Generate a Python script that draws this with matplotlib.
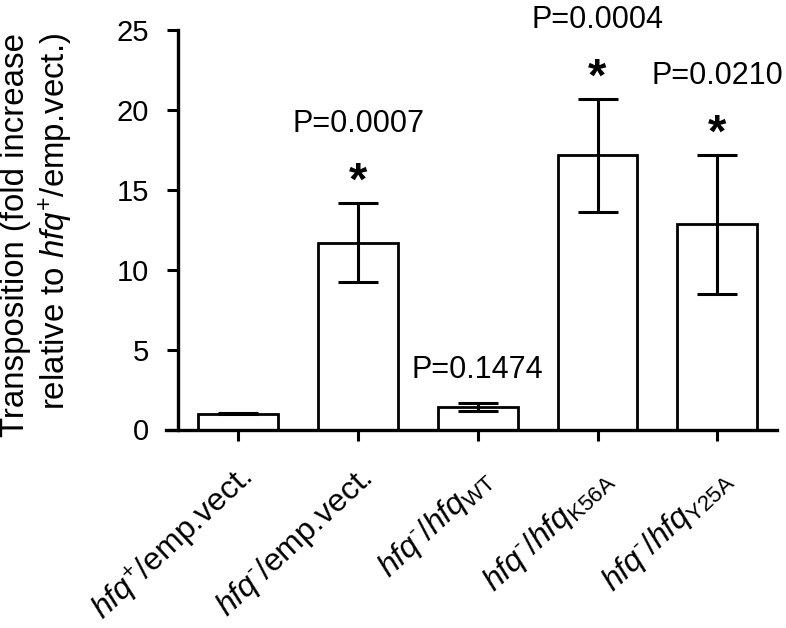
import matplotlib
matplotlib.use('Agg')
import matplotlib.pyplot as plt
from matplotlib.transforms import ScaledTranslation
import numpy as np

plt.rcParams['font.family'] = ['Liberation Sans', 'DejaVu Sans']
plt.rcParams['mathtext.fontset'] = 'custom'
plt.rcParams['mathtext.rm'] = 'Liberation Sans'
plt.rcParams['mathtext.it'] = 'Liberation Sans:italic'
plt.rcParams['mathtext.bf'] = 'Liberation Sans:bold'

# ---- data ----
categories = [r'$\mathit{hfq}^{+}$/emp.vect.',
              '$\\mathit{hfq}^{\u2010}$/emp.vect.',
              '$\\mathit{hfq}^{\u2010}/\\mathit{hfq}_{\\mathrm{WT}}$',
              '$\\mathit{hfq}^{\u2010}/\\mathit{hfq}_{\\mathrm{K56A}}$',
              '$\\mathit{hfq}^{\u2010}/\\mathit{hfq}_{\\mathrm{Y25A}}$']
means = [1.0, 11.7, 1.38, 17.15, 12.84]
errors = [0.05, 2.48, 0.25, 3.52, 4.33]
p_values = ['', 'P=0.0007', 'P=0.1474', 'P=0.0004', 'P=0.0210']
significant = [False, True, False, True, True]
yticks = [0, 5, 10, 15, 20, 25]
ylabel = 'Transposition (fold increase\nrelative to $\\mathit{hfq}^{+}$/emp.vect.)'

W, H = 786, 628
fig = plt.figure(figsize=(W / 100, H / 100), dpi=100)
ax = fig.add_axes([166.45 / W, 1 - 429.5 / H, 610.7 / W, 399.5 / H])

x = np.arange(len(categories))
ax.bar(x, means, width=0.667, color='white', edgecolor='black', linewidth=2.0, zorder=2)
ax.errorbar(x, means, yerr=errors, fmt='none', ecolor='black', elinewidth=2.2,
            capsize=14.5, capthick=2.2, zorder=3)

ax.set_xlim(-0.6, 4.5)
ax.set_ylim(0, 25)
ax.spines['top'].set_visible(False)
ax.spines['right'].set_visible(False)
ax.spines['left'].set_position(('data', -0.505))
for s in ('left', 'bottom'):
    ax.spines[s].set_linewidth(2.4)

ax.set_yticks(yticks)
ax.set_yticklabels([str(t) for t in yticks])
ax.tick_params(axis='both', direction='out', length=8, width=2.2, labelsize=21)
ax.tick_params(axis='y', pad=13)
ax.tick_params(axis='x', pad=0)

ax.set_xticks(x)
ax.set_xticklabels(categories, fontsize=23)
off = ScaledTranslation(0.16, -0.40, fig.dpi_scale_trans)
for lbl in ax.get_xticklabels():
    lbl.set_rotation(43)
    lbl.set_ha('right')
    lbl.set_va('baseline')
    lbl.set_rotation_mode('anchor')
    lbl.set_transform(lbl.get_transform() + off)

ax.set_ylabel(ylabel, fontsize=23.8, linespacing=1.2, multialignment='right')
ax.yaxis.set_label_coords(-0.150, 0.488)

star_fs = 34
for xi, m, e, p, sig in zip(x, means, errors, p_values, significant):
    top = m + e
    if sig:
        ax.annotate('*', xy=(xi, top + 1.9), xytext=(0, -0.46 * star_fs),
                    textcoords='offset points', ha='center', va='baseline',
                    fontsize=star_fs, fontweight='bold', annotation_clip=False)
        ptop = top + 4.45
    else:
        ptop = top + 1.6
    if p:
        ax.text(xi, ptop, p, ha='center', va='baseline', fontsize=22, clip_on=False)

fig.savefig('out.png', dpi=100)
